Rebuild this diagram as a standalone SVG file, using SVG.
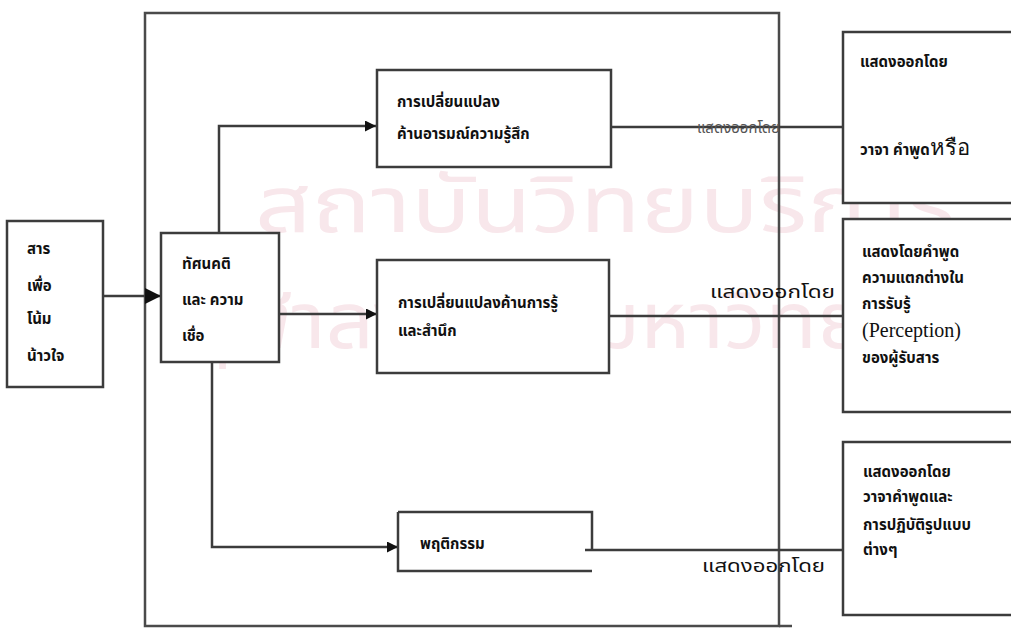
<svg xmlns="http://www.w3.org/2000/svg" width="1011" height="632" viewBox="0 0 1011 632">
<defs>
<marker id="ah" viewBox="0 0 10 10" refX="10" refY="5" markerWidth="11" markerHeight="11" markerUnits="userSpaceOnUse" orient="auto">
<path d="M0,0 L10,5 L0,10 z" fill="#111"/>
</marker>
<marker id="ahL" viewBox="0 0 10 10" refX="10" refY="5" markerWidth="16" markerHeight="16" markerUnits="userSpaceOnUse" orient="auto">
<path d="M0,0 L10,5 L0,10 z" fill="#111"/>
</marker>
</defs>
<style>
.bx{fill:#fff;stroke:#3c3c3c;stroke-width:2.5}
.ln{fill:none;stroke:#3c3c3c;stroke-width:2.5}
.t{font-family:"Noto Sans Thai","Loma","Garuda","Noto Sans","DejaVu Sans",sans-serif;font-size:15px;font-weight:bold;fill:#111}
.lb{font-family:"Noto Sans Thai","Loma","Garuda","Noto Sans","DejaVu Sans",sans-serif;font-size:18px;fill:#111}
.lbs{font-family:"Noto Sans Thai","Loma","Garuda","Noto Sans","DejaVu Sans",sans-serif;font-size:16px;fill:#555}
.wm{font-family:"Noto Sans Thai","Loma","Garuda","Noto Sans","DejaVu Sans",sans-serif;font-size:78px;fill:#f8e7eb}
.ser{font-family:"Liberation Serif","Times New Roman",serif}
</style>
<rect x="0" y="0" width="1011" height="632" fill="#fff"/>
<g id="watermark">
<text class="wm" x="255" y="232" textLength="700" lengthAdjust="spacingAndGlyphs">สถาบันวิทยบริการ</text>
<text class="wm" x="190" y="348" textLength="810" lengthAdjust="spacingAndGlyphs">จุฬาลงกรณ์มหาวิทยาลัย</text>
</g>
<g id="frame">
<rect x="145" y="13" width="634" height="613" fill="none" stroke="#4a4a4a" stroke-width="2.5"/>
<line x1="779" y1="626" x2="792" y2="626" stroke="#4a4a4a" stroke-width="2.5"/>
</g>
<g id="connectors">
<line class="ln" x1="103" y1="296" x2="161" y2="296" marker-end="url(#ahL)"/>
<path class="ln" d="M219,233 V126 H376" marker-end="url(#ah)"/>
<path class="ln" d="M279,314 H377" marker-end="url(#ah)"/>
<path class="ln" d="M212,340 V547 H398" marker-end="url(#ah)"/>
<line class="ln" x1="611" y1="127" x2="843" y2="127"/>
<line class="ln" x1="609" y1="316" x2="843" y2="316"/>
<line class="ln" x1="585" y1="550" x2="843" y2="550"/>
<text class="lbs" x="697" y="133" textLength="83" lengthAdjust="spacingAndGlyphs">แสดงออกโดย</text>
<text class="lb" x="710" y="298" textLength="125" lengthAdjust="spacingAndGlyphs">แสดงออกโดย</text>
<text class="lb" x="702" y="572" textLength="123" lengthAdjust="spacingAndGlyphs">แสดงออกโดย</text>
</g>
<g id="node-persuade">
<rect class="bx" x="7" y="221" width="96" height="166"/>
<text class="t" x="27" y="254">สาร</text>
<text class="t" x="27" y="291">เพื่อ</text>
<text class="t" x="27" y="324">โน้ม</text>
<text class="t" x="27" y="361">น้าวใจ</text>
</g>
<g id="node-attitude">
<rect class="bx" x="161" y="233" width="118" height="129"/>
<text class="t" x="182" y="269">ทัศนคติ</text>
<text class="t" x="182" y="305">และ ความ</text>
<text class="t" x="182" y="341">เชื่อ</text>
</g>
<g id="node-emotion">
<rect class="bx" x="377" y="70" width="234" height="97"/>
<text class="t" x="397" y="107">การเปลี่ยนแปลง</text>
<text class="t" x="397" y="139">ค้านอารมณ์ความรู้สึก</text>
</g>
<g id="node-cognition">
<rect class="bx" x="377" y="260" width="232" height="113"/>
<text class="t" x="398" y="308">การเปลี่ยนแปลงค้านการรู้</text>
<text class="t" x="398" y="336">และสำนึก</text>
</g>
<g id="node-behavior">
<path class="ln" d="M398,512 H592 V550"/>
<path class="ln" d="M398,512 V571 H592"/>
<text class="t" x="420" y="549">พฤติกรรม</text>
</g>
<g id="node-out1">
<path class="bx" d="M1011,32 H843 V203 H1011"/>
<text class="t" x="860" y="67">แสดงออกโดย</text>
<text class="t" x="860" y="155">วาจา คำพูด<tspan class="ser" font-weight="normal" font-size="22">หรือ</tspan></text>
</g>
<g id="node-out2">
<path class="bx" d="M1011,219 H843 V412 H1011"/>
<text class="t" x="862" y="257">แสดงโดยคำพูด</text>
<text class="t" x="862" y="283">ความแตกต่างใน</text>
<text class="t" x="862" y="309">การรับรู้</text>
<text class="ser" x="862" y="337" font-size="20" fill="#111">(Perception)</text>
<text class="t" x="862" y="363">ของผู้รับสาร</text>
</g>
<g id="node-out3">
<path class="bx" d="M1011,442 H843 V615 H1011"/>
<text class="t" x="863" y="477">แสดงออกโดย</text>
<text class="t" x="863" y="502">วาจาคำพูดและ</text>
<text class="t" x="863" y="530">การปฏิบัติรูปแบบ</text>
<text class="t" x="863" y="555">ต่างๆ</text>
</g>
</svg>
